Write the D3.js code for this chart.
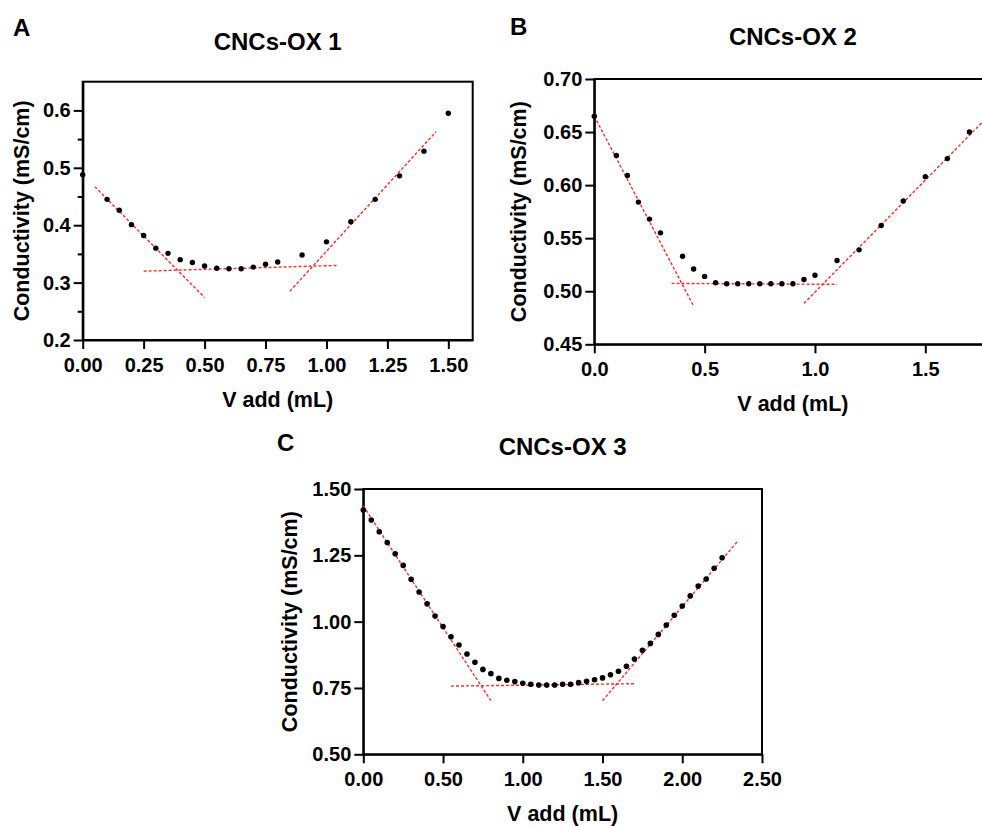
<!DOCTYPE html>
<html>
<head>
<meta charset="utf-8">
<title>CNCs-OX conductometric titration</title>
<script src="https://cdn.jsdelivr.net/npm/d3@7"></script>
<style>
  body { margin: 0; background: #fff; }
  svg { font-family: "Liberation Sans", Arial, sans-serif; }
  .axis path, .axis line { stroke: #000; stroke-width: 2; }
  .axis text { font-size: 20px; font-weight: bold; fill: #000; font-family: "Liberation Sans", Arial, sans-serif; }
  .frame { fill: none; stroke: #000; stroke-width: 2; }
  .fit { stroke: #ff2a2a; stroke-width: 1.4; stroke-dasharray: 3,2; fill: none; }
  .dot { fill: #000; }
  .title { font-size: 24px; font-weight: bold; text-anchor: middle; }
  .letter { font-size: 24px; font-weight: bold; }
  .label { font-size: 21.5px; font-weight: bold; text-anchor: middle; }
</style>
</head>
<body>
<svg id="fig" width="982" height="826"></svg>
<script>
// ---- data ----
// panel A: CNCs-OX 1
var xA = [0, 0.1, 0.15, 0.2, 0.25, 0.3, 0.35, 0.4, 0.45, 0.5, 0.55, 0.6, 0.65, 0.7, 0.75, 0.8, 0.9, 1.0, 1.1, 1.2, 1.3, 1.4, 1.5];
var yA = [0.488, 0.445, 0.426, 0.401, 0.382, 0.360, 0.351, 0.340, 0.335, 0.329, 0.325, 0.324, 0.324, 0.327, 0.332, 0.336, 0.348, 0.371, 0.406, 0.445, 0.486, 0.529, 0.595];
var fitA = [[0.05, 0.467, 0.5, 0.274], [0.25, 0.320, 1.05, 0.330], [0.85, 0.285, 1.45, 0.563]];
var xTicksA = [0, 0.25, 0.5, 0.75, 1.0, 1.25, 1.5];
var yTicksA = [0.2, 0.3, 0.4, 0.5, 0.6];
var yMinorA = [0.25, 0.35, 0.45, 0.55];

// panel B: CNCs-OX 2
var xB = [0, 0.1, 0.15, 0.2, 0.25, 0.3, 0.4, 0.45, 0.5, 0.55, 0.6, 0.65, 0.7, 0.75, 0.8, 0.85, 0.9, 0.95, 1.0, 1.1, 1.2, 1.3, 1.4, 1.5, 1.6, 1.7];
var yB = [0.665, 0.628, 0.609, 0.584, 0.568, 0.555, 0.533, 0.521, 0.514, 0.508, 0.507, 0.507, 0.507, 0.507, 0.507, 0.507, 0.507, 0.511, 0.515, 0.529, 0.539, 0.562, 0.585, 0.608, 0.625, 0.650];
var fitB = [[0, 0.665, 0.45, 0.486], [0.35, 0.5074, 1.1, 0.5065], [0.95, 0.4886, 1.8, 0.668]];
var xTicksB = [0, 0.5, 1.0, 1.5];
var yTicksB = [0.45, 0.50, 0.55, 0.60, 0.65, 0.70];

// panel C: CNCs-OX 3
var xC = [0, 0.05, 0.1, 0.15, 0.2, 0.25, 0.3, 0.35, 0.4, 0.45, 0.5, 0.55, 0.6, 0.65, 0.7, 0.75, 0.8, 0.85, 0.9, 0.95,
          1.0, 1.05, 1.1, 1.15, 1.2, 1.25, 1.3, 1.35, 1.4, 1.45, 1.5, 1.55, 1.6, 1.65, 1.7, 1.75, 1.8, 1.85, 1.9, 1.95,
          2.0, 2.05, 2.1, 2.15, 2.2, 2.25];
var yC = [1.421, 1.383, 1.339, 1.298, 1.256, 1.212, 1.160, 1.112, 1.067, 1.021, 0.982, 0.943, 0.912, 0.878, 0.847, 0.820, 0.804, 0.786, 0.779, 0.774,
          0.768, 0.764, 0.761, 0.761, 0.761, 0.764, 0.764, 0.770, 0.775, 0.781, 0.788, 0.800, 0.813, 0.832, 0.859, 0.892, 0.918, 0.952, 0.987, 1.024,
          1.059, 1.097, 1.134, 1.161, 1.201, 1.241];
var fitC = [[0, 1.436, 0.8, 0.702], [0.55, 0.757, 1.7, 0.766], [1.5, 0.702, 2.35, 1.305]];
var xTicksC = [0, 0.5, 1.0, 1.5, 2.0, 2.5];
var yTicksC = [0.50, 0.75, 1.00, 1.25, 1.50];

var svg = d3.select("#fig");

function panel(p) {
  var x = d3.scaleLinear().domain(p.xDomain).range([p.left, p.right]);
  var y = d3.scaleLinear().domain(p.yDomain).range([p.bottom, p.top]);
  var g = svg.append("g");

  // frame box
  g.append("rect").attr("class", "frame")
    .attr("x", p.left).attr("y", p.top)
    .attr("width", p.right - p.left).attr("height", p.bottom - p.top);

  // minor y ticks
  if (p.yMinor) {
    g.append("g").attr("class", "axis")
      .attr("transform", "translate(" + p.left + ",0)")
      .call(d3.axisLeft(y).tickValues(p.yMinor).tickSize(5).tickSizeOuter(0).tickFormat(""));
  }
  g.append("g").attr("class", "axis")
    .attr("transform", "translate(" + p.left + ",0)")
    .call(d3.axisLeft(y).tickValues(p.yTicks).tickSize(9).tickPadding(3).tickSizeOuter(0).tickFormat(d3.format(p.yFmt)));
  g.append("g").attr("class", "axis")
    .attr("transform", "translate(0," + p.bottom + ")")
    .call(d3.axisBottom(x).tickValues(p.xTicks).tickSize(9).tickPadding(9).tickSizeOuter(0).tickFormat(d3.format(p.xFmt)));

  // dashed fit lines
  g.selectAll(".fit").data(p.fits).enter().append("line")
    .attr("class", "fit")
    .attr("x1", function(d) { return x(d[0]); })
    .attr("y1", function(d) { return y(d[1]); })
    .attr("x2", function(d) { return x(d[2]); })
    .attr("y2", function(d) { return y(d[3]); });

  // points
  g.selectAll(".dot").data(d3.zip(p.xs, p.ys)).enter().append("circle")
    .attr("class", "dot")
    .attr("r", p.r)
    .attr("cx", function(d) { return x(d[0]); })
    .attr("cy", function(d) { return y(d[1]); });

  // texts
  g.append("text").attr("class", "title")
    .attr("x", (p.left + p.right) / 2).attr("y", p.top - p.titleGap)
    .text(p.title);
  g.append("text").attr("class", "letter")
    .attr("x", p.letterX).attr("y", p.letterY).text(p.letter);
  g.append("text").attr("class", "label")
    .attr("x", (p.left + p.right) / 2).attr("y", p.bottom + 67)
    .text("V add (mL)");
  g.append("text").attr("class", "label")
    .attr("transform", "translate(" + (p.left - p.yLabelGap) + "," + ((p.top + p.bottom) / 2) + ") rotate(-90)")
    .text("Conductivity (mS/cm)");
}

panel({
  xs: xA, ys: yA, fits: fitA, xTicks: xTicksA, yTicks: yTicksA, yMinor: yMinorA,
  xDomain: [0, 1.6], yDomain: [0.2, 0.65], xFmt: ".2f", yFmt: ".1f",
  left: 82.7, right: 472.7, top: 81.7, bottom: 340, r: 2.7,
  title: "CNCs-OX 1", titleGap: 31.7, letter: "A", letterX: 13, letterY: 36, yLabelGap: 54
});
panel({
  xs: xB, ys: yB, fits: fitB, xTicks: xTicksB, yTicks: yTicksB,
  xDomain: [0, 1.8], yDomain: [0.45, 0.70], xFmt: ".1f", yFmt: ".2f",
  left: 594.3, right: 991.5, top: 79, bottom: 344.3, r: 2.7,
  title: "CNCs-OX 2", titleGap: 34, letter: "B", letterX: 510, letterY: 35, yLabelGap: 68
});
panel({
  xs: xC, ys: yC, fits: fitC, xTicks: xTicksC, yTicks: yTicksC,
  xDomain: [0, 2.5], yDomain: [0.5, 1.5], xFmt: ".2f", yFmt: ".2f",
  left: 363.3, right: 762, top: 489, bottom: 754.3, r: 2.8,
  title: "CNCs-OX 3", titleGap: 34, letter: "C", letterX: 277, letterY: 451, yLabelGap: 66
});
</script>
</body>
</html>
